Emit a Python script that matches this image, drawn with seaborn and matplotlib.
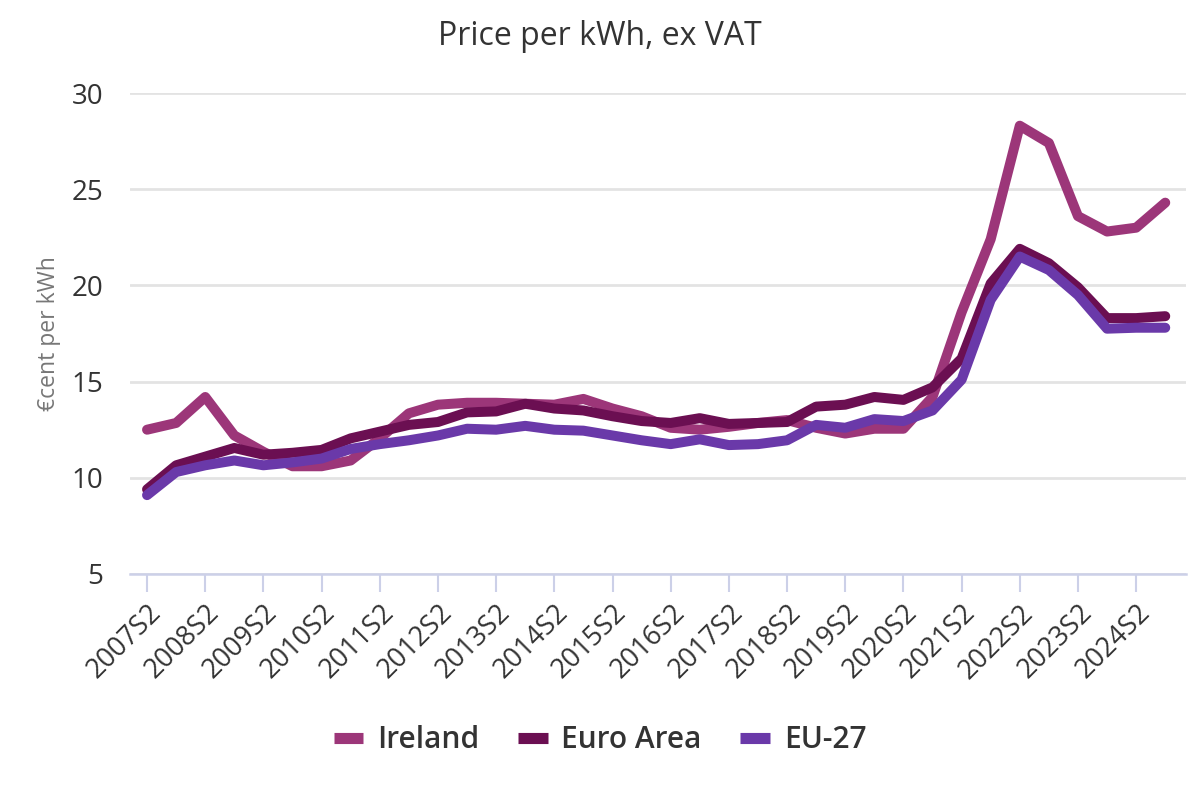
import matplotlib
matplotlib.use('Agg')
import matplotlib.pyplot as plt
import seaborn as sns
import pandas as pd

periods = ['2007S2', '2008S1', '2008S2', '2009S1', '2009S2', '2010S1', '2010S2', '2011S1',
           '2011S2', '2012S1', '2012S2', '2013S1', '2013S2', '2014S1', '2014S2', '2015S1',
           '2015S2', '2016S1', '2016S2', '2017S1', '2017S2', '2018S1', '2018S2', '2019S1',
           '2019S2', '2020S1', '2020S2', '2021S1', '2021S2', '2022S1', '2022S2', '2023S1',
           '2023S2', '2024S1', '2024S2', '2025S1']

ireland = [12.5, 12.85, 14.2, 12.2, 11.35, 10.6, 10.6, 10.9, 12.05, 13.35, 13.8, 13.9,
           13.9, 13.85, 13.8, 14.1, 13.6, 13.2, 12.6, 12.5, 12.65, 12.85, 13.0, 12.6,
           12.3, 12.55, 12.55, 14.2, 18.6, 22.4, 28.3, 27.4, 23.6, 22.8, 23.0, 24.3]
euro_area = [9.4, 10.65, 11.1, 11.55, 11.2, 11.3, 11.45, 12.05, 12.4, 12.75, 12.9, 13.4,
             13.45, 13.85, 13.6, 13.5, 13.2, 12.95, 12.85, 13.1, 12.8, 12.85, 12.9, 13.7,
             13.8, 14.2, 14.05, 14.7, 16.2, 20.1, 21.9, 21.15, 19.9, 18.3, 18.3, 18.4]
eu27 = [9.1, 10.3, 10.65, 10.9, 10.65, 10.8, 11.0, 11.5, 11.75, 11.95, 12.2, 12.55,
        12.5, 12.7, 12.5, 12.45, 12.2, 11.95, 11.75, 12.0, 11.7, 11.75, 11.95, 12.75,
        12.6, 13.05, 12.95, 13.5, 15.1, 19.25, 21.5, 20.8, 19.5, 17.75, 17.8, 17.8]

series_names = ['Ireland', 'Euro Area', 'EU-27']
colours = ['#9c3679', '#6b0f52', '#6a39a9']
yticks = [5, 10, 15, 20, 25, 30]

sns.set_style('white')
plt.rcParams['font.family'] = ['Open Sans', 'DejaVu Sans']

frames = []
for name, vals in zip(series_names, [ireland, euro_area, eu27]):
    frames.append(pd.DataFrame({'idx': range(len(periods)), 'period': periods,
                                'value': vals, 'series': name}))
df = pd.concat(frames, ignore_index=True)

fig = plt.figure(figsize=(12, 8), dpi=100)
ax = fig.add_axes([0.108, 0.2825, 0.88, 0.60125])

for y in yticks:
    ax.axhline(y, color='#e3e3e3', lw=2, zorder=0)

sns.lineplot(data=df, x='idx', y='value', hue='series', hue_order=series_names,
             palette=colours, linewidth=7.2, sort=False, legend=False, ax=ax,
             solid_capstyle='round', solid_joinstyle='round', clip_on=False, zorder=3)

ax.set_xlim(-0.6, 35.7)
ax.set_ylim(5, 30)
ax.set_yticks(yticks)
ax.set_yticklabels([str(v) for v in yticks], fontsize=20, color='#333333')
ax.tick_params(axis='y', left=False, length=0, pad=19)

s2_idx = [i for i, p in enumerate(periods) if p.endswith('S2')]
ax.set_xticks(s2_idx)
ax.set_xticklabels([periods[i] for i in s2_idx], rotation=45, ha='right',
                   rotation_mode='anchor', fontsize=19.5, color='#333333')
ax.tick_params(axis='x', bottom=True, direction='out', length=13, width=1.5,
               color='#ccd0e8', pad=5)

for side in ['left', 'right', 'top']:
    ax.spines[side].set_visible(False)
ax.spines['bottom'].set_color('#ccd0e8')
ax.spines['bottom'].set_linewidth(1.8)

ax.set_xlabel('')
ax.set_ylabel('€cent per kWh', fontsize=16.5, color='#777777')
ax.yaxis.set_label_coords(-0.065, 0.5)

fig.suptitle('Price per kWh, ex VAT', fontsize=23, color='#333333', y=0.975)

handles = [plt.Line2D([], [], color=c, lw=8, solid_capstyle='butt') for c in colours]
fig.legend(handles, series_names, loc='center', bbox_to_anchor=(0.5, 0.075), ncol=3,
           frameon=False, handlelength=1.0, columnspacing=1.3, handletextpad=0.45,
           prop={'size': 21.5, 'weight': 'semibold'}, labelcolor='#333333')

fig.savefig('out.png', dpi=100)
